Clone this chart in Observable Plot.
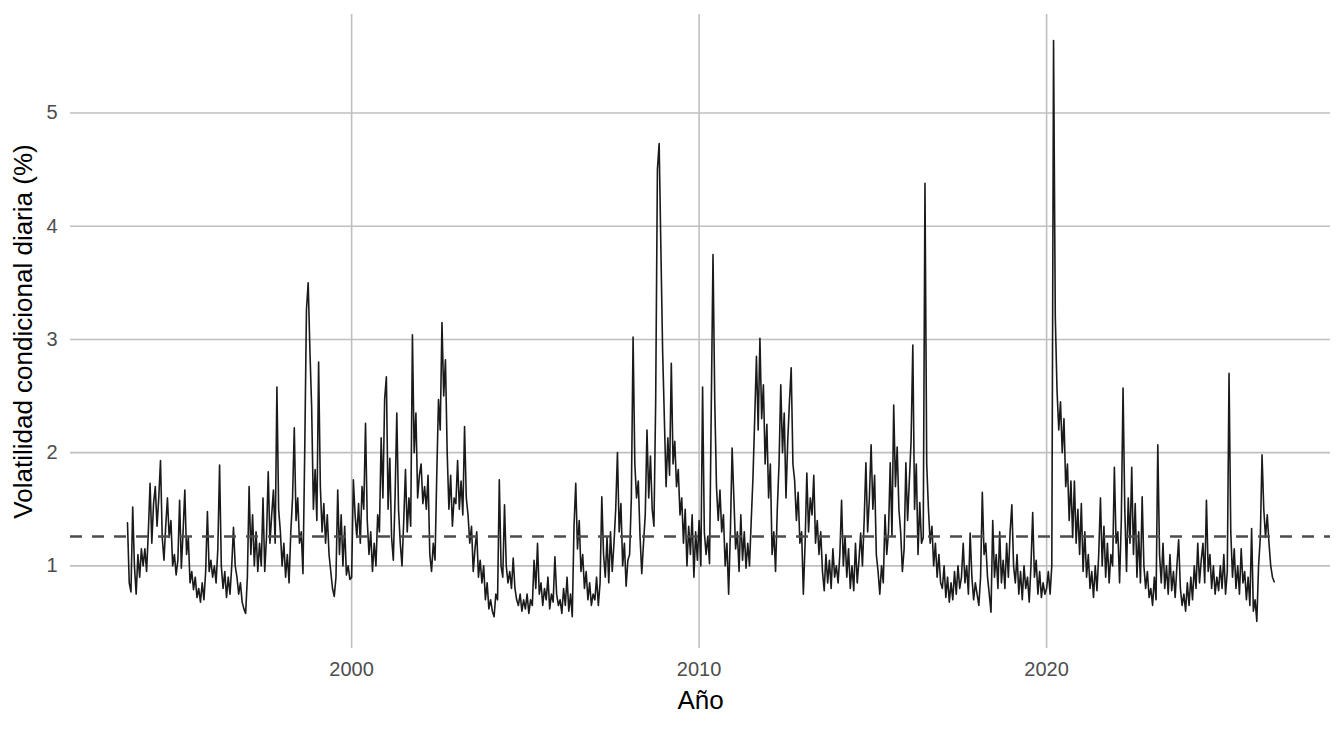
<!DOCTYPE html>
<html>
<head>
<meta charset="utf-8">
<script src="https://cdn.jsdelivr.net/npm/d3@7"></script>
<script src="https://cdn.jsdelivr.net/npm/@observablehq/plot@0.6"></script>
<style>
  body { margin: 0; background: #fff; }
</style>
</head>
<body>
<div id="chart"></div>
<script>
// volatilidad condicional diaria (%), una lectura cada 0.05 años desde 1993.55
const firstYear = 1993.55;
const stepYears = 0.05;

const vol1990s = [
  1.38, 0.85, 0.77, 1.52, 1.0, 0.75, 1.1, 0.9, 1.15,
  1.0, 1.15, 0.95, 1.3, 1.73, 1.2, 1.55, 1.7, 1.35, 1.6, 1.93, 1.25, 1.05, 1.35, 1.6, 1.25, 1.4, 1.0, 1.1, 0.92,
  1.05, 1.58, 0.98, 1.3, 1.67, 1.1, 1.25, 0.85, 0.95, 0.79, 0.9, 0.72, 0.8, 0.68, 0.85, 0.7, 0.95, 1.48, 0.95, 1.05,
  0.9, 1.0, 0.85, 1.15, 1.89, 1.0, 0.8, 0.95, 0.72, 0.9, 0.75, 1.0, 1.34, 1.0, 0.9, 0.75, 0.85, 0.68, 0.62, 0.58,
  0.9, 1.70, 1.1, 1.45, 1.0, 1.3, 0.95, 1.2, 1.0, 1.6, 0.95, 1.25, 1.83, 1.2, 1.45, 1.67, 1.2, 2.58, 1.5, 1.3,
  1.0, 1.2, 0.9, 1.1, 0.85, 1.3, 1.6, 2.22, 1.4, 1.6, 1.2, 1.3, 0.93, 2.0, 3.26, 3.5, 2.9, 2.4, 1.5, 1.85,
  1.4, 2.8, 1.7, 1.3, 1.55, 1.2, 1.45, 1.1, 0.95, 0.8, 0.73, 0.9, 1.67, 1.1, 1.45, 1.0, 1.35, 0.92, 1.0, 0.88
];

const vol2000s = [
  0.9, 1.76, 1.45, 1.25, 1.55, 1.2, 1.7, 1.5, 2.26, 1.4, 1.1, 1.3, 0.95, 1.2, 1.0, 1.45, 1.3, 2.13, 1.6, 2.47,
  2.67, 1.5, 1.95, 1.25, 1.05, 1.6, 2.35, 1.5, 1.2, 1.0, 1.4, 1.85, 1.3, 1.6, 1.35, 3.04, 2.0, 2.35, 1.6, 1.8,
  1.9, 1.55, 1.7, 1.5, 1.8, 1.1, 0.95, 1.2, 1.05, 1.8, 2.47, 2.2, 3.15, 2.5, 2.82, 2.0, 1.5, 1.8, 1.35, 1.6,
  1.55, 1.93, 1.5, 1.75, 1.45, 2.23, 1.6, 1.45, 1.2, 1.35, 0.95, 1.15, 1.3, 0.9, 1.05, 0.85, 1.0, 0.7, 0.85, 0.62,
  0.7, 0.6, 0.55, 0.75, 0.7, 1.76, 1.0, 0.9, 1.54, 1.0, 0.85, 0.95, 0.8, 1.07, 0.8, 0.7, 0.65, 0.75, 0.6, 0.7,
  0.62, 0.75, 0.58, 0.7, 0.65, 1.05, 0.8, 1.2, 0.75, 0.85, 0.65, 0.8, 0.7, 0.9, 0.62, 0.75, 0.68, 1.08, 0.75, 0.65,
  0.7, 0.58, 0.8, 0.65, 0.9, 0.6, 0.75, 0.55, 1.35, 1.73, 1.15, 1.4, 0.95, 1.1, 0.8, 0.95, 0.7, 0.85, 0.65, 0.75,
  0.7, 0.9, 0.65, 0.85, 1.61, 1.1, 0.9, 1.25, 0.85, 1.3, 0.95, 1.2, 1.5, 2.0, 1.3, 1.55, 1.0, 1.2, 0.82, 1.05,
  1.1, 1.6, 3.02, 1.9, 1.6, 1.75, 1.26, 0.93, 1.2, 1.45, 2.2, 1.6, 1.97, 1.5, 1.35, 2.45, 4.5, 4.73, 3.8, 2.9,
  2.3, 1.7, 2.13, 1.8, 2.79, 1.9, 2.1, 1.7, 1.85, 1.45, 1.6, 1.2, 1.5, 1.0, 1.35, 1.1, 1.45, 0.9, 1.3, 1.05
];

const vol2010s = [
  1.4, 1.0, 2.58, 1.3, 1.1, 1.26, 1.02, 2.4, 3.75, 2.46, 1.7, 1.4, 1.67, 1.3, 1.45, 1.0, 1.2, 0.75, 1.3, 2.04,
  1.6, 1.15, 1.3, 0.95, 1.45, 1.05, 1.3, 0.98, 1.2, 1.0, 1.4, 1.78, 2.3, 2.85, 2.2, 3.01, 2.3, 2.6, 1.9, 2.25,
  1.6, 1.9, 1.1, 1.3, 0.95, 1.5, 1.9, 2.6, 2.0, 2.35, 1.6, 2.1, 2.45, 2.75, 1.9, 1.75, 1.4, 1.65, 1.2, 1.3,
  0.75, 1.2, 1.82, 1.3, 1.6, 1.45, 1.8, 1.2, 1.4, 1.1, 1.3, 0.95, 0.78, 1.1, 0.85, 1.05, 0.8, 1.15, 0.9, 1.0,
  0.85, 1.1, 1.58, 1.0, 1.26, 0.9, 1.15, 0.8, 1.0, 0.78, 1.2, 0.85, 1.05, 1.29, 1.0, 1.4, 1.91, 1.3, 1.6, 2.07,
  1.5, 1.8, 1.1, 0.95, 0.75, 1.0, 0.85, 1.45, 1.1, 1.3, 1.91, 1.26, 2.42, 1.7, 2.05, 1.5, 1.3, 0.95, 1.15, 1.91,
  1.4, 1.75, 2.1, 2.95, 1.5, 1.9, 1.1, 1.56, 1.2, 1.25, 4.38, 1.9, 1.5, 1.2, 1.35, 1.0, 1.2, 0.9, 1.1, 0.85,
  0.8, 1.0, 0.72, 0.9, 0.68, 0.85, 0.7, 0.95, 0.75, 1.0, 0.8, 0.9, 1.2, 0.85, 1.0, 0.75, 1.29, 0.9, 0.7, 0.85,
  0.75, 0.65, 0.9, 1.65, 1.1, 1.2, 0.9, 0.75, 0.59, 1.4, 0.9, 1.1, 0.8, 1.3, 0.85, 1.05, 0.8, 1.2, 0.9, 1.3,
  1.54, 1.0, 0.85, 1.1, 0.75, 0.95, 0.7, 1.0, 0.8, 0.9, 0.68, 1.0, 1.47, 0.9, 1.05, 0.75, 0.95, 0.72, 0.85, 0.75
];

const vol2020s = [
  0.8, 0.95, 0.75, 1.0, 5.64, 3.2, 2.55, 2.2, 2.45, 2.0, 2.3, 1.7, 1.9, 1.4, 1.75, 1.25, 1.75, 1.2, 1.5, 1.1,
  1.55, 0.95, 1.3, 0.9, 1.1, 0.8, 0.95, 0.72, 1.0, 0.78, 1.1, 1.6, 1.0, 1.35, 0.9, 1.2, 0.85, 1.1, 1.0, 1.87,
  1.2, 1.3, 0.85, 1.4, 2.57, 1.5, 0.95, 1.6, 1.2, 1.87, 1.1, 1.55, 0.9, 1.3, 0.85, 1.61, 1.0, 0.8, 0.95, 0.72,
  0.8, 0.65, 0.9, 0.7, 2.07, 1.1, 0.85, 1.2, 0.8, 1.0, 0.75, 1.1, 0.78, 0.95, 0.72, 1.0, 1.23, 0.8, 0.65, 0.75,
  0.6, 0.85, 0.65, 0.9, 0.7, 1.0, 0.8, 1.2, 0.85, 1.05, 1.2, 0.85, 1.58, 0.95, 1.1, 0.8, 1.0, 0.75, 0.9, 0.78,
  1.0, 0.8, 1.1, 0.75, 0.95, 2.7, 1.3, 0.9, 1.15, 0.8, 1.0, 0.75, 1.15, 0.85, 0.95, 0.7, 0.9, 0.65, 1.33, 0.6,
  0.7, 0.51, 1.0, 1.25, 1.98, 1.5, 1.25, 1.45, 1.2, 1.0, 0.9, 0.86
];

const meanVol = 1.26;
const xTicks = [2000, 2010, 2020];
const yTicks = [1, 2, 3, 4, 5];

const series = [...vol1990s, ...vol2000s, ...vol2010s, ...vol2020s]
  .map((v, i) => ({ year: firstYear + i * stepYears, vol: v }));

const grid = "#bfbfbf";

const chart = Plot.plot({
  width: 1344,
  height: 729,
  marginLeft: 70,
  marginRight: 14,
  marginTop: 14,
  marginBottom: 81,
  style: { fontFamily: "'Liberation Sans', Arial, sans-serif", background: "#fff", overflow: "visible" },
  x: { domain: [1991.91, 2028.17] },
  y: { domain: [0.27, 5.87] },
  marks: [
    Plot.gridX(xTicks, { stroke: grid, strokeOpacity: 1, strokeWidth: 1.6 }),
    Plot.gridY(yTicks, { stroke: grid, strokeOpacity: 1, strokeWidth: 1.6 }),
    Plot.axisX(xTicks, { tickSize: 0, tickPadding: 13, tickFormat: "d", fontSize: 20, color: "#4d4d4d", label: null }),
    Plot.axisY(yTicks, { tickSize: 0, tickPadding: 13, tickFormat: d => String(d), fontSize: 20, color: "#4d4d4d", label: null }),
    Plot.line(series, { x: "year", y: "vol", stroke: "#1a1a1a", strokeWidth: 1.6 }),
    Plot.ruleY([meanVol], { stroke: "#4d4d4d", strokeWidth: 2.5, strokeDasharray: "12,10" }),
    Plot.text(["Año"], { frameAnchor: "bottom", dy: 60, fontSize: 26, fill: "#000" }),
    Plot.text(["Volatilidad condicional diaria (%)"], {
      frameAnchor: "left", textAnchor: "middle", dx: -47, rotate: -90, fontSize: 26, fill: "#000"
    })
  ]
});

document.getElementById("chart").append(chart);
</script>
</body>
</html>
